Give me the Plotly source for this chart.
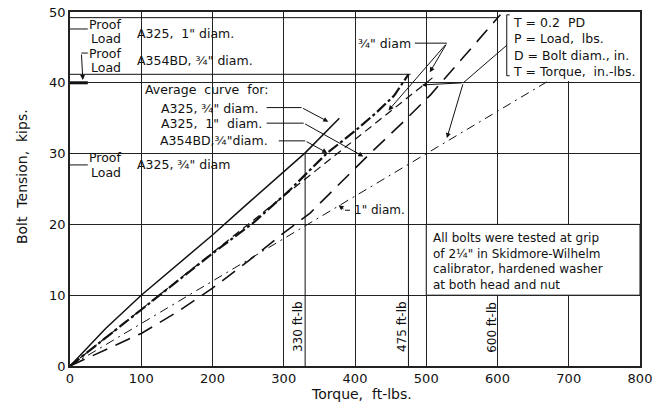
import plotly.graph_objects as go

# ---------------- data ----------------
torque_a325_34 = [0, 25, 50, 100, 150, 200, 250, 300, 330, 378]
tension_a325_34 = [0, 2.7, 5.3, 10.0, 14.3, 18.5, 23.0, 27.5, 30.1, 35.0]

torque_a354_34 = [0, 50, 100, 150, 200, 257, 309, 360, 400, 430, 455, 475]
tension_a354_34 = [0, 4.0, 7.9, 11.9, 15.9, 20.2, 24.9, 30.0, 33.2, 35.8, 38.2, 41.2]

torque_a325_1 = [0, 60, 100, 150, 200, 250, 300, 337, 393, 421, 466, 506, 552, 604]
tension_a325_1 = [0, 2.7, 4.6, 7.6, 11.0, 14.8, 18.8, 21.6, 27.2, 30.0, 34.3, 38.3, 43.6, 49.6]

torque_formula_34 = [0, 510]
tension_formula_34 = [0, 40.8]

torque_formula_1 = [0, 672]
tension_formula_1 = [0, 40.3]

x_ticks = [0, 100, 200, 300, 400, 500, 600, 700, 800]
y_ticks = [0, 10, 20, 30, 40, 50]

FONT = "DejaVu Sans"
INK = "#111111"

fig = go.Figure()

def add_curve(x, y, dash, width, name):
    fig.add_trace(go.Scatter(x=x, y=y, mode="lines", name=name,
                             line=dict(color=INK, width=width, dash=dash),
                             hoverinfo="skip", showlegend=False))

add_curve(torque_formula_1, tension_formula_1, "9px,5px,2px,5px", 1.0, "1in formula")
add_curve(torque_formula_34, tension_formula_34, "8px,5px", 1.2, "3/4in formula")
add_curve(torque_a354_34, tension_a354_34, "12px,3px,3px,3px", 2.2, "A354BD 3/4")
add_curve(torque_a325_1, tension_a325_1, "16px,9px", 1.6, "A325 1")
add_curve(torque_a325_34, tension_a325_34, "solid", 1.5, "A325 3/4")

shapes = []
def seg(x0, y0, x1, y1, w=1.0, layer="above"):
    shapes.append(dict(type="line", x0=x0, y0=y0, x1=x1, y1=y1, xref="x", yref="y",
                       line=dict(color=INK, width=w), layer=layer))

# white boxes that interrupt the grid
shapes.append(dict(type="rect", x0=611, y0=40.25, x1=800, y1=50, xref="x", yref="y",
                   fillcolor="white", line=dict(width=0), layer="between"))
shapes.append(dict(type="rect", x0=500, y0=10, x1=800, y1=20, xref="x", yref="y",
                   fillcolor="white", line=dict(color=INK, width=1), layer="between"))

# reference lines
seg(0, 49.2, 600, 49.2)
seg(0, 41.2, 478, 41.2)
seg(330, 0, 330, 30)
seg(475, 0, 475, 41.2)
# proof-load ticks
seg(0, 47.6, 25, 47.6)
seg(0, 40.0, 25, 40.0, w=3)
seg(0, 28.4, 25, 28.4)
seg(25, 44.2, 16, 44.2)
# leaders for "Average curve for"
seg(276, 36.5, 325, 36.5)
seg(276, 34.3, 328, 34.3)
seg(293, 31.8, 330, 31.8)
# 3/4" diam leader
seg(484, 45.6, 529, 45.6)
# formula bracket
shapes.append(dict(type="path", path="M 617,49.6 L 613,49.6 L 613,41.0 L 617,41.0",
                   xref="x", yref="y", line=dict(color=INK, width=1)))
seg(613, 45.3, 552, 40.0)
# 1" diam leader
seg(393, 22.0, 386, 22.0)

fig.update_layout(shapes=shapes)

ann = []
def text(x, y, s, size=12.5, xanchor="left", yanchor="middle", align="left", angle=0):
    ann.append(dict(x=x, y=y, xref="x", yref="y", text=s, showarrow=False,
                    xanchor=xanchor, yanchor=yanchor, align=align, textangle=angle,
                    font=dict(family=FONT, size=size, color=INK)))

def arrow(x0, y0, x1, y1):
    ann.append(dict(x=x1, y=y1, ax=x0, ay=y0, xref="x", yref="y", axref="x", ayref="y",
                    text="", showarrow=True, arrowhead=2, arrowsize=1, arrowwidth=1,
                    arrowcolor=INK))

def proof_load(y_proof, y_load):
    text(75, y_proof, "Proof", xanchor="right")
    text(75, y_load, "Load", xanchor="right")

proof_load(48.2, 46.2)
text(91, 47.0, "A325,  1\" diam.")
proof_load(44.1, 42.1)
text(91, 43.1, "A354BD, ¾\" diam.")
arrow(16, 44.2, 18, 40.4)
text(102, 39.0, "Average  curve  for:")
text(125, 36.4, "A325, ¾\" diam.")
text(125, 34.2, "A325,  1\"  diam.")
text(123, 31.8, "A354BD,¾\"diam.")
arrow(325, 36.5, 362.5, 34.5)
arrow(328, 34.3, 411.6, 29.6)
arrow(330, 31.8, 361, 30.1)
proof_load(29.4, 27.3)
text(91, 28.4, "A325, ¾\" diam")
text(402, 45.6, "¾\" diam")
arrow(529, 45.6, 505, 41.5)
arrow(529, 45.6, 447, 36.1)
arrow(552, 40.0, 494, 39.7)
arrow(552, 40.0, 529, 32.2)
text(396, 22.0, "1\" diam.", size=12)
arrow(386, 22.0, 377, 22.7)

ann.append(dict(x=619, y=49.9, xref="x", yref="y", xanchor="left", yanchor="top", align="left",
                showarrow=False, font=dict(family=FONT, size=12.5, color=INK),
                text="T = 0.2  PD<br>P = Load,  lbs.<br>D = Bolt diam., in.<br>T = Torque,  in.-lbs."))
ann.append(dict(x=507, y=19.4, xref="x", yref="y", xanchor="left", yanchor="top", align="left",
                showarrow=False, font=dict(family=FONT, size=12, color=INK),
                text="All bolts were tested at grip<br>of 2¼\" in Skidmore-Wilhelm<br>calibrator, hardened washer<br>at both head and nut"))

text(320, 5.5, "330 ft-lb", size=12, xanchor="center", angle=-90)
text(466, 5.5, "475 ft-lb", size=12, xanchor="center", angle=-90)
text(592, 5.5, "600 ft-lb", size=12, xanchor="center", angle=-90)

ann.append(dict(x=0.511, y=-0.078, xref="paper", yref="paper", text="Torque,  ft-lbs.",
                showarrow=False, xanchor="center", yanchor="middle",
                font=dict(family=FONT, size=14, color=INK)))
ann.append(dict(x=-0.084, y=0.534, xref="paper", yref="paper", text="Bolt  Tension,  kips.",
                showarrow=False, xanchor="center", yanchor="middle", textangle=-90,
                font=dict(family=FONT, size=14, color=INK)))

fig.update_layout(annotations=ann)

axis_common = dict(showgrid=True, gridcolor="#222222", gridwidth=1, zeroline=False,
                   showline=True, linecolor="#222222", linewidth=1.5, mirror=True,
                   automargin=False,
                   ticks="", tickfont=dict(family=FONT, size=13, color=INK))
fig.update_xaxes(range=[0, 800], tickvals=x_ticks, ticktext=[str(v) for v in x_ticks], **axis_common)
fig.update_yaxes(range=[0, 50], tickvals=y_ticks, ticktext=[str(v) for v in y_ticks], **axis_common)

fig.update_layout(width=661, height=406, margin=dict(l=70, r=21, t=12, b=40, autoexpand=False),
                  paper_bgcolor="white", plot_bgcolor="white", showlegend=False)

fig.write_html("out.html")
